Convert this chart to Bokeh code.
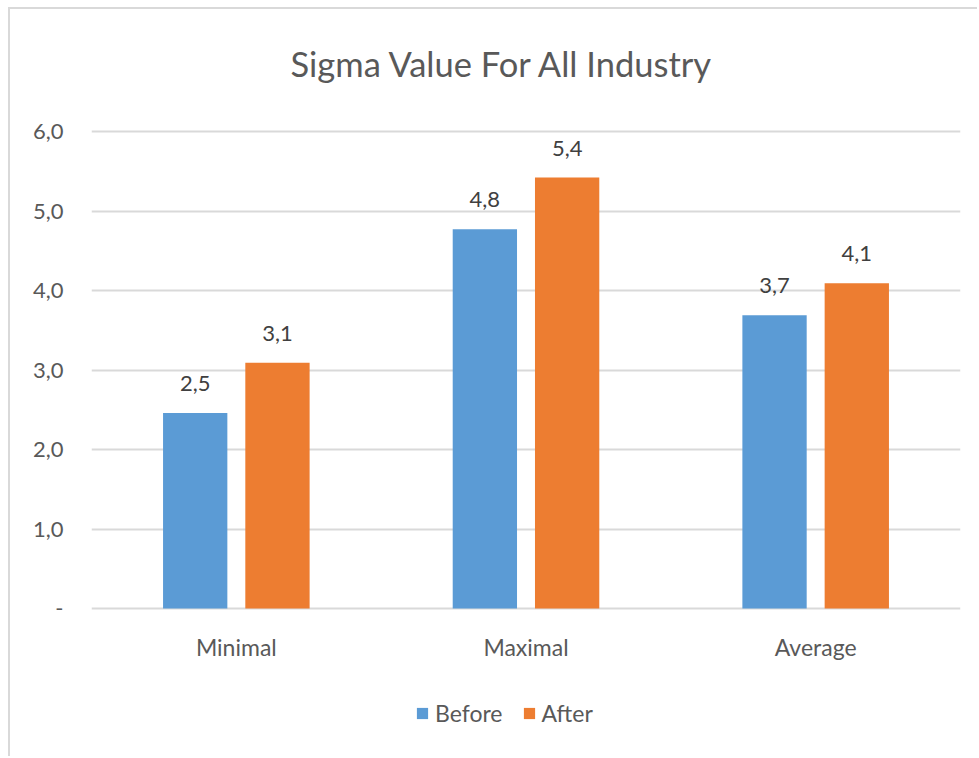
from bokeh.plotting import figure
from bokeh.models import ColumnDataSource, CustomJSTickFormatter, Legend, LegendItem, Range1d, FixedTicker, LabelSet
from bokeh.core.properties import value
from bokeh.transform import dodge
from bokeh.embed import file_html
from bokeh.resources import INLINE

categories = ["Minimal", "Maximal", "Average"]
before = [2.46, 4.77, 3.69]
after = [3.09, 5.42, 4.09]
before_labels = ["2,5", "4,8", "3,7"]
after_labels = ["3,1", "5,4", "4,1"]
y_ticks = [0, 1, 2, 3, 4, 5, 6]

FONT = "Lato"
TXT = "#595959"
GRID = "#d9d9d9"
BLUE = "#5B9BD5"
ORANGE = "#ED7D31"

src = ColumnDataSource(dict(cat=categories, before=before, after=after,
                            bl=before_labels, al=after_labels,
                            cy=[-0.49] * len(categories)))

p = figure(x_range=categories, y_range=Range1d(-1.7736, 6.2642), width=969, height=749,
           output_backend="svg", toolbar_location=None,
           min_border_left=81, min_border_right=19, min_border_top=101, min_border_bottom=9,
           title="Sigma Value For All Industry")
p.styles = {"margin-left": "8px", "margin-top": "7px",
            "border-left": "2px solid #d9d9d9", "border-top": "2px solid #d9d9d9"}

p.title.align = "left"
p.title.offset = 199
p.title.text_font = FONT
p.title.text_font_size = "34.5px"
p.title.text_font_style = "normal"
p.title.text_color = TXT
p.title.standoff = 54

p.outline_line_color = None
p.background_fill_color = "white"
p.border_fill_color = "white"

r1 = p.vbar(x=dodge("cat", -0.142, range=p.x_range), top="before", width=0.222,
            source=src, color=BLUE, line_color=None)
r2 = p.vbar(x=dodge("cat", 0.142, range=p.x_range), top="after", width=0.222,
            source=src, color=ORANGE, line_color=None)

for col, lab, off in (("before", "bl", -0.142), ("after", "al", 0.142)):
    ls = LabelSet(x=dodge("cat", off, range=p.x_range), y=col, text=lab, source=src,
                  text_align="center", text_baseline="bottom", y_offset=22,
                  text_font=value(FONT), text_font_size="22px", text_color="#404040")
    p.add_layout(ls)

# category labels (x axis drawn inside the frame so the legend fits below)
p.add_layout(LabelSet(x="cat", y="cy", text="cat", source=src,
                      text_align="center", text_baseline="middle",
                      text_font=value(FONT), text_font_size="23px", text_color=TXT))
p.xaxis.visible = False

p.yaxis.ticker = FixedTicker(ticks=y_ticks)
p.yaxis.formatter = CustomJSTickFormatter(code="""
    return tick == 0 ? "-" : tick.toFixed(1).replace(".", ",");
""")
p.yaxis.axis_line_color = None
p.yaxis.major_tick_line_color = None
p.yaxis.minor_tick_line_color = None
p.yaxis.major_tick_out = 0
p.yaxis.major_tick_in = 0
p.yaxis.major_label_text_font = FONT
p.yaxis.major_label_text_font_size = "22px"
p.yaxis.major_label_text_color = TXT
p.yaxis.major_label_standoff = 28

p.xgrid.grid_line_color = None
p.ygrid.grid_line_color = GRID
p.ygrid.grid_line_width = 2

legend = Legend(items=[LegendItem(label="Before", renderers=[r1]),
                       LegendItem(label="After", renderers=[r2])],
                orientation="horizontal", location=(324, 22),
                label_text_font=FONT, label_text_font_size="23px", label_text_color=TXT,
                glyph_width=14, glyph_height=14, spacing=19, label_standoff=6,
                padding=5, margin=0,
                border_line_color=None, background_fill_alpha=0)
p.add_layout(legend, "center")

open("out.html", "w").write(file_html(p, INLINE))
